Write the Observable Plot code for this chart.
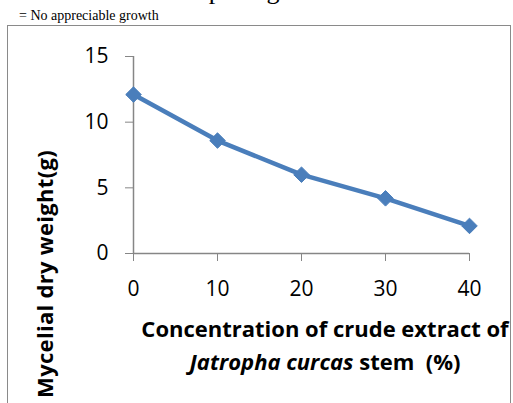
<!DOCTYPE html>
<html><head><meta charset="utf-8">
<script src="https://cdn.jsdelivr.net/npm/d3@7"></script>
<script src="https://cdn.jsdelivr.net/npm/@observablehq/plot@0.6"></script>
<style>
body{margin:0;background:#fff;}
#wrap{position:relative;width:513px;height:403px;overflow:hidden;background:#fff;}
#chart{position:absolute;left:0;top:0;}
.frame{position:absolute;left:7px;top:25px;width:502px;height:420px;border:1.5px solid #8a8a8a;pointer-events:none;}
.cut{position:absolute;left:0;width:513px;text-align:center;top:-24px;font-family:"Liberation Serif",serif;font-size:26px;color:#000;}
.note{position:absolute;left:19px;top:8px;font-family:"Liberation Serif",serif;font-size:14px;color:#000;}
.xl{position:absolute;left:120px;width:410px;text-align:center;font-family:"Open Sans",sans-serif;font-weight:bold;font-size:22px;color:#000;line-height:33px;top:312px;}
.yl{position:absolute;font-family:"Open Sans",sans-serif;font-weight:bold;font-size:22px;letter-spacing:0.3px;color:#000;white-space:nowrap;left:44px;top:274px;transform:translate(-50%,-50%) rotate(-90deg);}
</style></head>
<body><div id="wrap">
<div class="cut">pathogen</div>
<div class="note">= No appreciable growth</div>
<div id="chart"></div>
<div class="frame"></div>
<div class="xl">Concentration of crude extract of<br><i>Jatropha curcas</i> stem&nbsp; (%)</div>
<div class="yl">Mycelial dry weight(g)</div>
</div>
<script>
const concentration = [0, 10, 20, 30, 40];
const dryWeight = [12.1, 8.6, 6.0, 4.2, 2.1];
const xTicks = [0, 10, 20, 30, 40];
const yTicks = [0, 5, 10, 15];

const data = concentration.map((c, i) => ({c, w: dryWeight[i]}));
const axisGray = "#868686";
const blue = "#4a7ebb";

const plot = Plot.plot({
  width: 513,
  height: 403,
  marginLeft: 133,
  marginRight: 44,
  marginTop: 56,
  marginBottom: 150,
  style: {background: "transparent", fontFamily: "'Open Sans', sans-serif", fontSize: "21px", color: "#000"},
  x: {domain: [0, 40]},
  y: {domain: [0, 15]},
  marks: [
    Plot.axisY({ticks: yTicks, tickSize: 8, tickPadding: 17, stroke: axisGray, fill: "#000", fontSize: 21, label: null}),
    Plot.axisX({ticks: xTicks, tickSize: 8, tickPadding: 20, stroke: axisGray, fill: "#000", fontSize: 21, label: null}),
    Plot.ruleX([0], {y1: 0, y2: 15, stroke: axisGray, strokeWidth: 1.5}),
    Plot.ruleY([0], {x1: 0, x2: 40, stroke: axisGray, strokeWidth: 1.5}),
    Plot.line(data, {x: "c", y: "w", stroke: blue, strokeWidth: 4.5}),
    Plot.dot(data, {x: "c", y: "w", symbol: "diamond2", r: 7, fill: blue, stroke: blue, strokeWidth: 1})
  ]
});
document.getElementById("chart").appendChild(plot);
</script>
</body></html>
